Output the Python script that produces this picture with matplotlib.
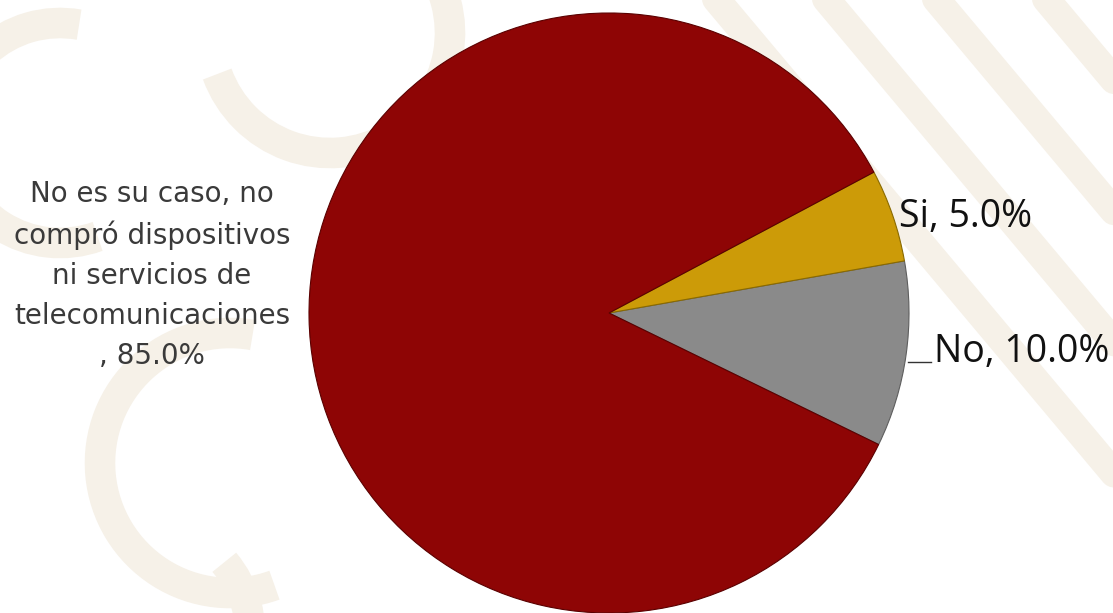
import matplotlib.pyplot as plt
import numpy as np
from matplotlib.patches import Arc

# data
labels = ["No", "Si", "No es su caso, no compró dispositivos ni servicios de telecomunicaciones"]
values = [10.0, 5.0, 85.0]
colors = ["#8a8a8a", "#cc9b08", "#8e0505"]

W, H = 1113, 613
fig = plt.figure(figsize=(W / 100, H / 100), dpi=100)
fig.patch.set_facecolor("white")
ax = fig.add_axes([0, 0, 1, 1])

# faint watermark behind the chart
wm = "#f6f1e8"
for x0 in [700, 810, 920, 1030, 1140]:
    ax.plot([x0, x0 + 520], [H + 20, H - 600], color=wm, lw=20,
            solid_capstyle="round", zorder=0)
for cx, cy, r in [(60, 480, 110), (230, 150, 130)]:
    ax.add_patch(Arc((cx, cy), 2 * r, 2 * r, theta1=80, theta2=290,
                     color=wm, lw=22, zorder=0))
for cx, cy, r in [(330, 580, 120), (140, -20, 110)]:
    ax.add_patch(Arc((cx, cy), 2 * r, 2 * r, theta1=200, theta2=400,
                     color=wm, lw=22, zorder=0))

center = (609, H - 313)
radius = 300
wedges, _ = ax.pie(values, colors=colors, startangle=-26, counterclock=True,
                   center=center, radius=radius, frame=True,
                   wedgeprops=dict(edgecolor="#5a0000", linewidth=0.8))
wedges[0].set_edgecolor("#5e5e5e")
wedges[1].set_edgecolor("#8a6a00")
for w in wedges:
    w.set_zorder(2)
ax.set_xlim(0, W)
ax.set_ylim(0, H)
ax.set_aspect("equal")
ax.axis("off")

pct = [f"{v:.1f}%" for v in values]

ax.text(152, H - 275, "No es su caso, no\ncompró dispositivos\nni servicios de\ntelecomunicaciones\n, " + pct[2],
        ha="center", va="center", fontsize=20, family="DejaVu Sans",
        color="#3a3a3a", linespacing=1.55, zorder=3)
ax.text(899, H - 227, f"{labels[1]}, {pct[1]}", ha="left", va="baseline",
        fontsize=27, family="Open Sans", color="#111111", zorder=3)
ax.text(934, H - 362, f"{labels[0]}, {pct[0]}", ha="left", va="baseline",
        fontsize=27, family="Open Sans", color="#111111", zorder=3)
ax.plot([908, 931], [H - 362, H - 362], color="#333333", lw=1, zorder=3)

fig.savefig("out.png", dpi=100)
